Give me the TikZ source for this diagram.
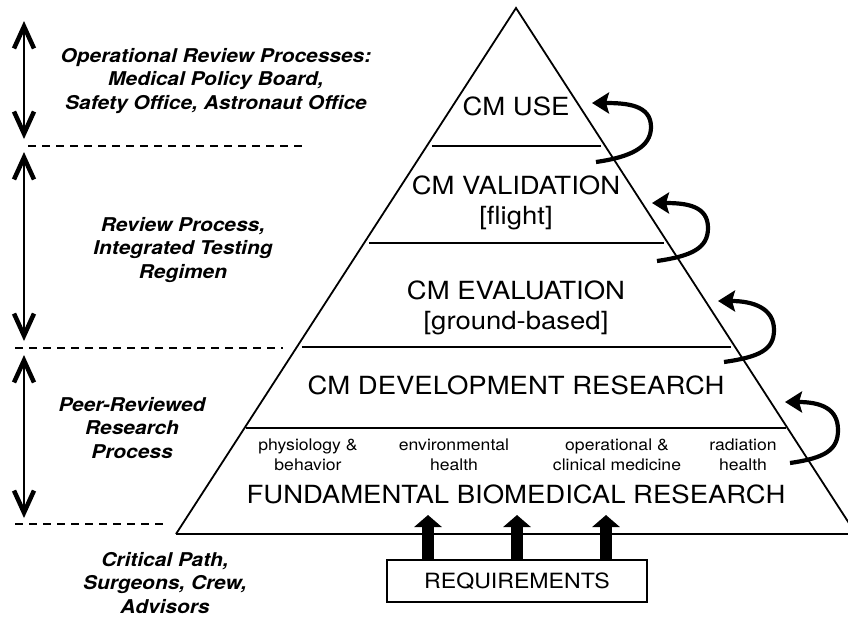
\documentclass[tikz,border=0pt]{standalone}
\usepackage{fontspec}
\setmainfont[FakeStretch=1.1]{TeX Gyre Heros}
\usetikzlibrary{arrows.meta, calc}

\begin{document}
\begin{tikzpicture}[
    x=1pt, y=-1pt,
    edge/.style={line width=1.8pt},
    tier/.style={line width=2.4pt},
    level/.style={font=\fontsize{25}{30}\selectfont, align=center, inner sep=0pt},
    topic/.style={font=\fontsize{16}{20.5}\selectfont, align=center, inner sep=0pt},
    process/.style={font=\fontsize{19}{23.5}\selectfont\bfseries\itshape, align=center, inner sep=0pt},
    divider/.style={line width=1.8pt, dash pattern=on 8pt off 6pt},
    span/.style={line width=2pt, {Straight Barb[length=22pt,width=20pt,line width=4.5pt 0]}-{Straight Barb[length=22pt,width=20pt,line width=4.5pt 0]}},
    feed/.style={line width=4.2pt, -{Stealth[length=17pt,width=21pt,inset=3pt]}},
    push/.style={line width=12pt, -{Triangle[length=12pt,width=27pt]}},
    reqbox/.style={draw, line width=2pt, minimum width=260pt, minimum height=42pt, font=\fontsize{21}{25}\selectfont}
]
\useasboundingbox (0,0) rectangle (848,616);
\clip (0,0) rectangle (848,616);

% Pyramid
\coordinate (apex) at (516,8);
\coordinate (bl) at (176,534);
\coordinate (br) at (856,534);
\draw[edge] (bl) -- (apex) -- (br);
\draw[tier] (bl) -- (br);

% Tiers
\draw[tier, shorten <=5pt, shorten >=4pt] ($(apex)!0.2624!(bl)$) -- ($(apex)!0.2624!(br)$);
\draw[tier, shorten <=5pt, shorten >=4pt] ($(apex)!0.4468!(bl)$) -- ($(apex)!0.4468!(br)$);
\draw[tier, shorten <=5pt, shorten >=4pt] ($(apex)!0.6445!(bl)$) -- ($(apex)!0.6445!(br)$);
\draw[tier, shorten <=1pt, shorten >=1pt] ($(apex)!0.7985!(bl)$) -- ($(apex)!0.7985!(br)$);

% Levels
\node[level] (use) at (516,106) {CM USE};
\node[level] (valid) at (516,203) {CM VALIDATION\\{}[flight]};
\node[level] (eval) at (516,308) {CM EVALUATION\\{}[ground-based]};
\node[level] (devel) at (516,385) {CM DEVELOPMENT RESEARCH};
\node[level] (fund) at (516,494) {FUNDAMENTAL BIOMEDICAL RESEARCH};

% Research areas
\node[topic] (phys) at (308,455) {physiology \&\\behavior};
\node[topic] (env) at (454,455) {environmental\\health};
\node[topic] (oper) at (617,455) {operational \&\\clinical medicine};
\node[topic] (rad) at (743,455) {radiation\\health};

% Requirements
\node[reqbox] (req) at (517,581) {REQUIREMENTS};
\coordinate (p1) at (428,515);
\coordinate (p2) at (517,515);
\coordinate (p3) at (606,515);
\draw[push] (req.north -| p1) -- (p1);
\draw[push] (req.north -| p2) -- (p2);
\draw[push] (req.north -| p3) -- (p3);

% Feedback arrows
\coordinate (t1) at (596,162);
\coordinate (h1) at (592,103);
\coordinate (t2) at (657,261);
\coordinate (h2) at (652,203);
\coordinate (t3) at (724,362);
\coordinate (h3) at (718,301);
\coordinate (t4) at (790,463);
\coordinate (h4) at (785,402);
\draw[feed] (t1) .. controls +(35,-5) and +(0,20) .. ++(55,-35) .. controls +(0,-22) and +(35,0) .. (h1);
\draw[feed] (t2) .. controls +(35,-5) and +(0,20) .. ++(51,-33) .. controls +(0,-22) and +(35,0) .. (h2);
\draw[feed] (t3) .. controls +(35,-5) and +(0,20) .. ++(50,-32) .. controls +(0,-22) and +(35,0) .. (h3);
\draw[feed] (t4) .. controls +(35,-5) and +(0,20) .. ++(48,-33) .. controls +(0,-22) and +(35,0) .. (h4);

% Review processes
\node[process] (ops) at (216,81) {Operational Review Processes:\\Medical Policy Board,\\Safety Office, Astronaut Office};
\node[process] (review) at (183,250) {Review Process,\\Integrated Testing\\Regimen};
\node[process] (peer) at (132,428) {Peer-Reviewed\\Research\\Process};
\node[process] (critical) at (165,583) {Critical Path,\\Surgeons, Crew,\\Advisors};

\coordinate (s1a) at (24,21);
\coordinate (s1b) at (24,139);
\coordinate (s2a) at (24,152);
\coordinate (s2b) at (24,341);
\coordinate (s3a) at (24,355);
\coordinate (s3b) at (24,518);
\draw[span] (s1a) -- (s1b);
\draw[span] (s2a) -- (s2b);
\draw[span] (s3a) -- (s3b);

\draw[divider] (28,146) -- (302,146);
\draw[divider] (15,348) -- (283,348);
\draw[divider] (15,524) -- (167,524);

\end{tikzpicture}
\end{document}
